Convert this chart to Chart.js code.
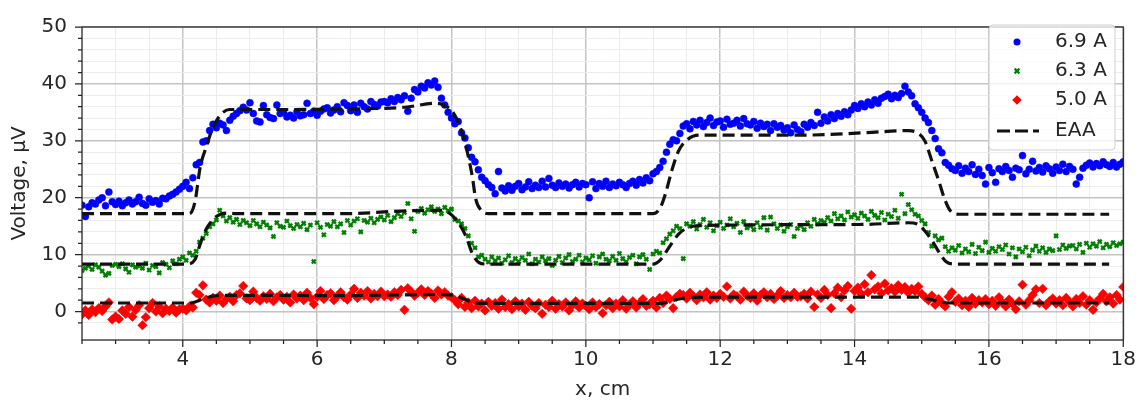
<!DOCTYPE html>
<html lang="en">
<head>
  <meta charset="UTF-8" />
  <title>Voltage vs x</title>
  <script src="https://cdn.jsdelivr.net/npm/chart.js"></script>
  <style>
    body { margin: 0; background: #fff; }
    #wrap { width: 1144px; height: 403px; }
  </style>
</head>
<body>
  <div id="wrap"><canvas id="chart"></canvas></div>
  <script>
    // sampling grid of the probe, cm (one reading every 0.05 cm from 2.5 to 18)
    const xStart = 2.5, xStep = 0.05;

    // 6.9 A readings, µV
    const volt69 = [
      18.7, 16.7, 18.4, 19.1, 18.9, 19.6, 20.0, 18.6, 21.0, 19.3,
      18.8, 19.4, 18.6, 19.1, 19.6, 18.9, 19.3, 20.1, 19.0, 18.7, 19.8, 19.2, 19.5, 18.9, 19.9, 19.8, 20.3, 20.6, 21.0, 21.5,
      22.0, 22.7, 21.6, 23.5, 25.8, 26.2, 29.8, 30.0, 31.8, 32.9, 32.3, 33.1, 32.8, 31.8, 33.6, 34.3, 34.8, 35.3, 35.9, 35.4,
      36.7, 34.8, 33.5, 33.3, 36.2, 34.6, 34.1, 33.9, 36.3, 34.8, 35.0, 34.2, 34.5, 34.0, 35.1, 34.4, 34.6, 36.6, 34.8, 35.2,
      34.5, 35.2, 35.6, 35.8, 34.9, 35.4, 36.0, 35.1, 36.7, 36.2, 35.3, 36.3, 35.0, 36.6, 36.0, 35.6, 36.9, 36.4, 36.1, 36.8,
      36.9, 36.7, 37.4, 36.9, 37.6, 37.2, 37.9, 35.2, 37.5, 39.0, 38.6, 39.6, 39.3, 40.2, 39.8, 40.5, 39.4, 37.5, 36.3, 35.0,
      34.0, 33.0, 33.4, 31.4, 30.5, 28.8, 27.1, 26.3, 24.9, 23.6, 23.0, 22.3, 21.8, 20.7, 24.6, 21.7, 21.2, 22.1, 21.3, 22.0,
      22.5, 21.4, 21.9, 22.8, 21.6, 22.2, 21.8, 22.9, 21.9, 23.4, 22.2, 21.8, 22.6, 22.0, 22.4, 21.7, 22.3, 22.7, 21.9, 22.5,
      22.3, 20.0, 22.8, 21.6, 22.5, 22.0, 22.9, 21.8, 22.4, 22.1, 22.7, 22.3, 21.8, 22.5, 22.9, 22.2, 23.2, 22.6, 23.5, 23.0,
      24.2, 24.6, 25.3, 26.4, 28.0, 29.4, 30.2, 30.0, 31.3, 32.6, 33.0, 32.1, 33.4, 32.8, 33.6, 32.5, 33.2, 34.0, 32.7, 33.3,
      33.5, 32.4, 33.8, 32.9, 33.1, 33.6, 32.6, 33.9, 33.0, 32.8, 33.4, 32.2, 33.1, 32.5, 32.9, 31.8, 33.0, 32.4, 32.7, 31.9,
      32.3, 31.4, 32.8, 32.0, 31.6, 32.9, 32.4, 33.2, 32.7, 35.0, 33.1, 34.2, 33.5, 34.6, 33.9, 34.8, 34.3, 35.1, 34.6, 35.4,
      36.2, 35.7, 36.5, 36.0, 36.8, 36.3, 37.2, 36.6, 37.5, 37.8, 38.2, 37.4, 38.0, 37.6, 38.3, 39.6, 38.6, 37.9, 36.5, 35.8,
      35.0, 34.0, 33.2, 31.8, 30.4, 28.6, 27.9, 26.2, 25.7, 25.1, 24.8, 25.6, 24.3, 25.2, 24.6, 25.8, 24.1, 25.0, 23.9, 22.4,
      25.3, 24.4, 22.7, 25.1, 24.6, 25.5, 24.8, 23.6, 25.2, 24.9, 27.4, 24.2, 25.0, 26.4, 24.7, 25.3, 24.5, 25.6, 25.1, 24.3,
      25.4, 24.8, 25.9, 24.6, 25.5, 25.0, 22.4, 23.6, 25.2, 25.7, 26.1, 25.4, 26.0, 25.6, 26.3, 25.8, 25.5, 26.2, 25.4, 25.9,
      26.3
    ];

    // 6.3 A readings, µV
    const volt63 = [
      7.2, 7.6, 8.0, 7.4, 8.2, 7.8, 7.1, 6.4, 6.7, 8.1,
      8.3, 7.9, 8.4, 7.5, 6.9, 8.2, 7.8, 8.0, 7.6, 8.5, 7.3, 8.1, 7.9, 6.8, 8.6, 8.3, 7.7, 8.9, 8.4, 9.2,
      9.6, 9.0, 10.3, 9.9, 10.6, 12.2, 12.9, 13.7, 14.9, 15.4, 16.1, 17.8, 16.8, 15.9, 16.5, 15.7, 16.2, 15.3, 16.0, 15.6,
      15.1, 16.0, 15.4, 14.9, 15.7, 15.2, 14.7, 13.2, 15.6, 15.0, 14.8, 15.9, 15.1, 14.6, 15.3, 14.9, 15.5, 14.4, 15.2, 8.8,
      15.6, 14.8, 13.5, 15.3, 15.0, 15.8, 14.9, 15.4, 13.9, 16.0, 15.2, 15.9, 16.3, 14.0, 16.0, 15.7, 16.4, 15.6, 16.2, 16.6,
      16.1, 16.9, 15.8, 16.5, 17.2, 16.7, 17.4, 19.0, 16.3, 14.1, 17.6, 18.1, 17.3, 17.9, 18.4, 17.6, 18.0, 17.2, 18.3, 17.7,
      18.0, 16.2, 15.9, 15.4, 14.6, 13.3, 12.0, 11.2, 9.6, 9.9, 9.2, 8.7, 9.6, 8.9, 9.4, 8.5, 9.1, 9.8, 8.6, 9.3,
      8.8, 9.5, 9.0, 10.1, 8.4, 9.2, 8.7, 9.6, 8.9, 9.3, 8.1, 9.0, 9.7, 8.6, 9.4, 10.0, 8.8, 9.2, 9.9, 8.7,
      9.4, 9.1, 9.8, 8.5, 9.6, 10.1, 9.2, 8.9, 9.7, 9.0, 10.2, 9.3, 8.7, 9.5, 9.9, 8.4, 9.6, 10.0, 9.2, 7.4,
      10.1, 10.6, 10.3, 12.1, 12.8, 13.6, 14.2, 15.0, 14.6, 9.3, 15.4, 15.0, 15.8, 14.5, 15.3, 16.2, 14.8, 15.6, 14.2, 15.1,
      15.7, 14.6, 15.2, 16.3, 14.9, 15.5, 13.9, 15.8, 14.7, 15.1, 14.4, 15.6, 14.8, 16.5, 14.3, 16.6, 15.4, 14.6, 15.2, 14.1,
      14.9, 15.3, 13.2, 14.6, 15.1, 14.4, 15.6, 15.0, 16.2, 15.4, 16.0, 15.7, 16.5, 15.9, 17.2, 16.3, 16.8, 16.1, 17.5, 16.6,
      17.0, 16.4, 17.3, 16.8, 16.2, 17.6, 16.9, 16.5, 17.4, 16.1, 17.1, 16.7, 17.8, 16.4, 20.6, 17.2, 18.8, 17.9, 17.1, 16.8,
      16.0, 15.4, 13.9, 11.5, 13.3, 12.6, 12.9, 11.4, 10.6, 11.2, 10.8, 11.6, 10.3, 11.0, 10.5, 11.8, 10.2, 11.3, 10.7, 12.2,
      10.4, 11.1, 10.6, 11.4, 10.9, 11.7, 10.1, 11.2, 9.6, 11.0, 10.5, 11.3, 9.8, 10.8, 11.5, 10.6, 11.2, 10.4, 11.0, 10.7,
      13.3, 10.9, 11.7, 11.1, 11.5, 11.6, 11.0, 11.8, 10.4, 12.0, 11.3, 11.9, 11.5, 12.3, 11.2, 11.8, 11.4, 12.1, 11.6, 11.9,
      12.2
    ];

    // 5.0 A readings, µV
    const volt50 = [
      -0.5, 0.2, -0.6, 0.4, -0.1, 0.6, 0.1, 0.9, 1.6, -1.4,
      -0.9, -1.3, 0.2, -0.4, 0.8, -0.9, 0.3, 1.1, -2.4, -1.0, 0.6, 1.5, 0.0, 0.9, -0.3, 0.5, 0.1, 0.7, -0.2, 0.4,
      0.5, 0.2, 0.9, 0.7, 3.3, 2.9, 4.6, 2.1, 1.6, 2.4, 1.9, 2.8, 1.5, 2.2, 2.6, 1.8, 2.9, 3.2, 4.5, 2.3,
      2.0, 3.5, 2.4, 1.9, 2.7, 2.2, 3.1, 1.8, 2.5, 2.9, 2.1, 2.6, 1.6, 3.0, 2.3, 2.8, 2.0, 3.3, 2.4, 1.3,
      2.6, 3.6, 2.2, 2.9, 3.2, 2.0, 2.7, 3.4, 2.5, 2.1, 3.0, 4.0, 2.4, 3.3, 2.8, 3.6, 2.3, 3.1, 2.7, 3.5,
      2.7, 3.0, 2.6, 3.4, 2.9, 3.8, 0.3, 4.1, 3.5, 2.8, 3.3, 3.9, 2.9, 3.6, 3.1, 2.4, 3.7, 3.0, 3.4, 2.8,
      2.5, 2.0, 1.3, 2.4, 0.8, 1.6, 0.6, 1.9, 0.9, 1.4, 0.2, 1.7, 1.0, 1.5, 0.5, 2.1, 0.8, 1.3, 0.4, 1.8,
      0.9, 1.4, 0.3, 1.7, 1.0, 0.6, 1.5, -0.4, 1.2, 0.8, 1.9, 0.5, 1.3, 0.9, 1.6, 0.2, 1.1, 1.8, 0.7, 1.4,
      1.0, 0.4, 1.6, 0.8, 1.3, -0.3, 1.1, 1.7, 0.6, 1.4, 0.9, 2.0, 0.5, 1.2, 1.8, 0.7, 1.5, 2.2, 1.0, 1.3,
      1.9, 0.7, 2.4, 1.5, 2.8, 2.2, 0.6, 2.6, 3.1, 2.9, 2.3, 3.3, 2.7, 2.0, 3.0, 2.5, 3.4, 2.1, 2.8, 2.4,
      3.1, 2.6, 4.4, 2.3, 3.0, 2.7, 2.1, 3.5, 2.8, 2.4, 3.2, 1.9, 2.9, 3.4, 2.5, 3.1, 2.2, 2.8, 3.6, 2.4,
      2.9, 2.5, 3.3, 2.6, 2.7, 3.1, 2.3, 3.5, 0.8, 3.0, 2.4, 3.8, 2.9, 0.6, 3.2, 4.2, 2.5, 3.7, 4.5, 0.5,
      3.6, 4.2, 3.1, 4.8, 3.4, 6.4, 3.9, 4.4, 3.2, 4.9, 3.7, 4.1, 3.5, 4.6, 3.8, 4.3, 3.3, 4.0, 3.6, 4.4,
      3.1, 2.5, 2.0, 2.8, 1.2, 2.2, 1.5, 0.9, 2.6, 3.4, 1.7, 2.3, 1.1, 1.9, 0.8, 2.4, 1.4, 2.0, 1.6, 2.2,
      1.3, 1.9, 1.0, 2.5, 1.6, 0.9, 2.1, 1.4, 0.4, 1.8, 4.7, 1.2, 2.0, 2.9, 3.9, 1.5, 4.0, 1.1, 1.8, 2.3,
      1.4, 2.0, 1.1, 2.4, 1.7, 0.9, 2.2, 1.5, 2.7, 1.2, 2.0, 0.3, 1.6, 2.3, 3.1, 1.8, 2.5, 1.4, 2.9, 2.1,
      4.3
    ];

    // EAA model curves
    const eaaTopX = [2.5, 4.1, 4.18, 4.26, 4.36, 4.43, 4.55, 4.7, 5.5, 6.5, 7.3, 7.77, 7.88, 8.01, 8.12, 8.22, 8.31, 8.36, 8.44, 8.55,
                     11.0, 11.11, 11.19, 11.28, 11.38, 11.51, 11.68, 13.2, 14.13, 14.8, 14.95, 15.05, 15.15, 15.25, 15.34, 15.42, 15.55, 17.79];
    const eaaTopY = [17.2, 17.2, 19.2, 25.4, 29.3, 31.8, 34.4, 35.5, 35.5, 35.6, 35.9, 36.6, 36.3, 35.2, 32.7, 28.8, 23.7, 19.8, 17.8, 17.2,
                     17.2, 18.3, 20.9, 24.8, 28.2, 30.2, 31.0, 31.0, 31.4, 31.8, 31.3, 29.9, 26.5, 23.1, 19.8, 17.8, 17.1, 17.1];
    const eaaMidX = [2.5, 4.06, 4.18, 4.26, 4.36, 4.5, 4.65, 4.8, 6.4, 7.33, 7.86, 8.01, 8.12, 8.22, 8.31, 8.41, 8.5,
                     11.0, 11.11, 11.24, 11.38, 11.51, 11.68, 14.1, 14.8, 14.95, 15.05, 15.15, 15.27, 15.36, 15.48, 17.79];
    const eaaMidY = [8.35, 8.35, 9.1, 11.9, 14.7, 16.7, 17.3, 17.2, 17.2, 17.7, 17.8, 16.9, 15.3, 13.1, 10.2, 8.6, 8.35,
                     8.35, 9.1, 11.3, 13.6, 14.7, 15.1, 15.3, 15.6, 15.3, 14.1, 12.5, 10.2, 8.8, 8.35, 8.35];
    const eaaLowX = [2.5, 4.11, 4.3, 4.45, 4.65, 6.4, 7.82, 8.01, 8.17, 8.31, 8.46, 11.13, 11.28, 11.43, 11.6, 14.95, 15.1, 15.25, 15.4, 17.79];
    const eaaLowY = [1.5, 1.5, 2.2, 2.7, 2.85, 2.8, 3.0, 2.9, 2.3, 1.65, 1.43, 1.45, 1.9, 2.3, 2.5, 2.55, 2.2, 1.77, 1.5, 1.5];

    const seriesNames = ['6.9 A', '6.3 A', '5.0 A', 'EAA'];

    const pts = ys => ys.map((v, i) => ({ x: +(xStart + i * xStep).toFixed(2), y: v }));
    const curve = (xs, ys) => xs.map((v, i) => ({ x: v, y: ys[i] }));

    const eaaStyle = {
      showLine: true, pointRadius: 0, borderColor: '#111111', borderWidth: 3.2,
      borderDash: [12, 6], cubicInterpolationMode: 'monotone', order: 0
    };

    const textColor = '#262626';
    const font = { family: 'DejaVu Sans', size: 20 };

    // frame, minor/major tick marks and the in-plot legend
    const decor = {
      id: 'decor',
      afterDraw(chart) {
        const { ctx, chartArea: a, scales: { x, y } } = chart;
        ctx.save();
        ctx.strokeStyle = textColor;
        ctx.lineWidth = 1.25;
        ctx.beginPath();
        x.ticks.forEach(t => {
          const px = x.getPixelForValue(t.value);
          const len = t.value % 2 === 0 ? 7 : 4;
          ctx.moveTo(px, a.bottom); ctx.lineTo(px, a.bottom + len);
        });
        y.ticks.forEach(t => {
          if (t.value % 2 !== 0) return;
          const py = y.getPixelForValue(t.value);
          const len = t.value % 10 === 0 ? 7 : 4;
          ctx.moveTo(a.left, py); ctx.lineTo(a.left - len, py);
        });
        ctx.stroke();
        ctx.strokeRect(a.left, a.top, a.right - a.left, a.bottom - a.top);

        // legend box
        const bx = 989, by = 25, bw = 126, bh = 125;
        ctx.beginPath();
        ctx.roundRect(bx, by, bw, bh, 4);
        ctx.fillStyle = 'rgba(255,255,255,0.8)';
        ctx.fill();
        ctx.strokeStyle = '#d0d0d0';
        ctx.lineWidth = 1;
        ctx.stroke();

        const mx = 1017, tx = 1055, rows = [42, 71, 100, 131];
        ctx.fillStyle = '#0000ff';
        ctx.beginPath(); ctx.arc(mx, rows[0], 3.5, 0, Math.PI * 2); ctx.fill();
        ctx.strokeStyle = '#008000'; ctx.lineWidth = 2.2;
        ctx.beginPath();
        ctx.moveTo(mx - 2.4, rows[1] - 2.4); ctx.lineTo(mx + 2.4, rows[1] + 2.4);
        ctx.moveTo(mx + 2.4, rows[1] - 2.4); ctx.lineTo(mx - 2.4, rows[1] + 2.4);
        ctx.stroke();
        ctx.fillStyle = '#ff0000';
        ctx.beginPath();
        ctx.moveTo(mx, rows[2] - 4.8); ctx.lineTo(mx + 4.8, rows[2]);
        ctx.lineTo(mx, rows[2] + 4.8); ctx.lineTo(mx - 4.8, rows[2]);
        ctx.closePath(); ctx.fill();
        ctx.strokeStyle = '#111111'; ctx.lineWidth = 3.2; ctx.setLineDash([13, 5]);
        ctx.beginPath(); ctx.moveTo(997, rows[3]); ctx.lineTo(1039, rows[3]); ctx.stroke();
        ctx.setLineDash([]);

        ctx.fillStyle = textColor;
        ctx.font = '20px "DejaVu Sans"';
        ctx.textBaseline = 'middle';
        ctx.textAlign = 'left';
        seriesNames.forEach((n, i) => ctx.fillText(n, tx, rows[i]));
        ctx.restore();
      }
    };

    new Chart(document.getElementById('chart'), {
      type: 'scatter',
      data: {
        datasets: [
          { label: seriesNames[0], data: pts(volt69), pointStyle: 'circle', pointRadius: 3.5,
            backgroundColor: '#0000ff', borderColor: '#0000ff', borderWidth: 0.5, order: 1 },
          { label: seriesNames[1], data: pts(volt63), pointStyle: 'crossRot', pointRadius: 2.8,
            backgroundColor: '#008000', borderColor: '#008000', borderWidth: 2.3, order: 2 },
          { label: seriesNames[2], data: pts(volt50), pointStyle: 'rectRot', pointRadius: 4.8,
            backgroundColor: '#ff0000', borderColor: '#ff0000', borderWidth: 0.5, order: 3 },
          { label: seriesNames[3], data: curve(eaaTopX, eaaTopY), ...eaaStyle },
          { label: seriesNames[3], data: curve(eaaMidX, eaaMidY), ...eaaStyle },
          { label: seriesNames[3], data: curve(eaaLowX, eaaLowY), ...eaaStyle }
        ]
      },
      options: {
        responsive: true,
        maintainAspectRatio: false,
        animation: false,
        layout: { padding: { top: 14, right: 18, left: 0, bottom: 0 } },
        plugins: { legend: { display: false }, tooltip: { enabled: false } },
        scales: {
          x: {
            type: 'linear', min: 2.5, max: 18,
            afterFit: s => { s.height = 63; },
            border: { display: false },
            grid: {
              drawTicks: false,
              color: c => c.tick && c.tick.value % 2 === 0 ? '#c4c4c4' : '#ececec',
              lineWidth: c => c.tick && c.tick.value % 2 === 0 ? 1.5 : 1
            },
            ticks: {
              stepSize: 0.5, autoSkip: false, maxRotation: 0, padding: 8,
              color: textColor, font,
              callback: v => v % 2 === 0 ? String(v) : ''
            },
            title: { display: true, text: 'x, cm', color: textColor, font, padding: { top: 0, bottom: 1 } }
          },
          y: {
            min: -5, max: 50,
            afterFit: s => { s.width = 82; },
            border: { display: false },
            grid: {
              drawTicks: false,
              color: c => c.tick && c.tick.value % 10 === 0 ? '#c4c4c4' : '#ececec',
              lineWidth: c => c.tick && c.tick.value % 10 === 0 ? 1.5 : 1
            },
            ticks: {
              stepSize: 2, autoSkip: false, padding: 15,
              color: textColor, font,
              callback: v => v % 10 === 0 ? String(v) : ''
            },
            title: { display: true, text: 'Voltage, μV', color: textColor, font, padding: { top: 8, bottom: 0 } }
          }
        }
      },
      plugins: [decor]
    });
  </script>
</body>
</html>
